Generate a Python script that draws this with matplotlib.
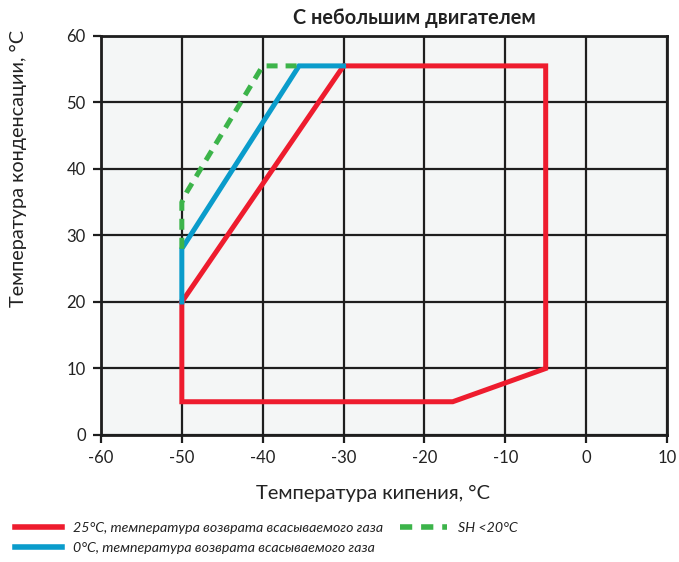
import matplotlib
matplotlib.use("Agg")
import matplotlib.pyplot as plt
from matplotlib.lines import Line2D

plt.rcParams['font.family'] = ['Lato', 'DejaVu Sans']

# Operating envelope outlines (evaporating temp, condensing temp)
red_te = [-50, -30, -5, -5, -16.5, -50, -50]
red_tc = [20, 55.5, 55.5, 10, 5, 5, 20]

blue_te = [-50, -50, -35.5, -30]
blue_tc = [20, 28, 55.5, 55.5]

green_te = [-50, -50, -49.4, -40, -35.5]
green_tc = [28, 35, 36.5, 55.5, 55.5]

x_ticks = [-60, -50, -40, -30, -20, -10, 0, 10]
y_ticks = [0, 10, 20, 30, 40, 50, 60]

title = "С небольшим двигателем"
xlabel = "Температура кипения, °C"
ylabel = "Температура конденсации, °C"
legend_red = "25°C, температура возврата всасываемого газа"
legend_blue = "0°C, температура возврата всасываемого газа"
legend_green = "SH <20°C"

RED = "#ee1c2e"
BLUE = "#0a9ccb"
GREEN = "#3cb44a"
INK = "#1e1e1e"

fig = plt.figure(figsize=(6.79, 5.62), dpi=100)
ax = fig.add_axes([0.1487, 0.226, 0.8336, 0.710])
ax.set_facecolor("#f4f6f6")

ax.set_xlim(-60, 10)
ax.set_ylim(0, 60)
ax.set_xticks(x_ticks)
ax.set_yticks(y_ticks)
ax.set_xticklabels([str(v) for v in x_ticks])
ax.set_yticklabels([str(v) for v in y_ticks])
ax.grid(True, color=INK, linewidth=1.6)
ax.set_axisbelow(True)
for s in ax.spines.values():
    s.set_color(INK)
    s.set_linewidth(2.0)
ax.tick_params(direction="out", length=6, width=1.6, color=INK,
               labelsize=12, labelcolor="#222222", pad=5)

ax.plot(red_te, red_tc, color=RED, lw=3.6, solid_joinstyle="miter", zorder=3)
ax.plot(blue_te, blue_tc, color=BLUE, lw=3.6, solid_joinstyle="miter", zorder=4)
ax.plot(green_te, green_tc, color=GREEN, lw=3.6, linestyle=(0, (2.2, 1.6)), zorder=5)

fig.text(0.611, 0.968, title, ha="center", va="center",
         fontsize=14.3, fontweight="bold", color="#222222")
fig.text(0.549, 0.122, xlabel, ha="center", va="center",
         fontsize=14.5, color="#222222")
fig.text(0.027, 0.70, ylabel, ha="center", va="center", rotation=90,
         fontsize=14.3, color="#222222")

legend_kw = dict(frameon=False, prop={"style": "italic", "size": 10.2},
                 handlelength=3.3, handletextpad=0.78, borderpad=0,
                 borderaxespad=0, labelcolor="#222222")
handles = [Line2D([], [], color=RED, lw=4),
           Line2D([], [], color=BLUE, lw=4)]
fig.legend(handles, [legend_red, legend_blue], loc="upper left",
           bbox_to_anchor=(0.022, 0.072), labelspacing=0.6, **legend_kw)
fig.legend([Line2D([], [], color=GREEN, lw=4, linestyle=(0, (2.2, 1.6)))],
           [legend_green], loc="upper left",
           bbox_to_anchor=(0.589, 0.072), **legend_kw)

fig.savefig("out.png", dpi=100)
